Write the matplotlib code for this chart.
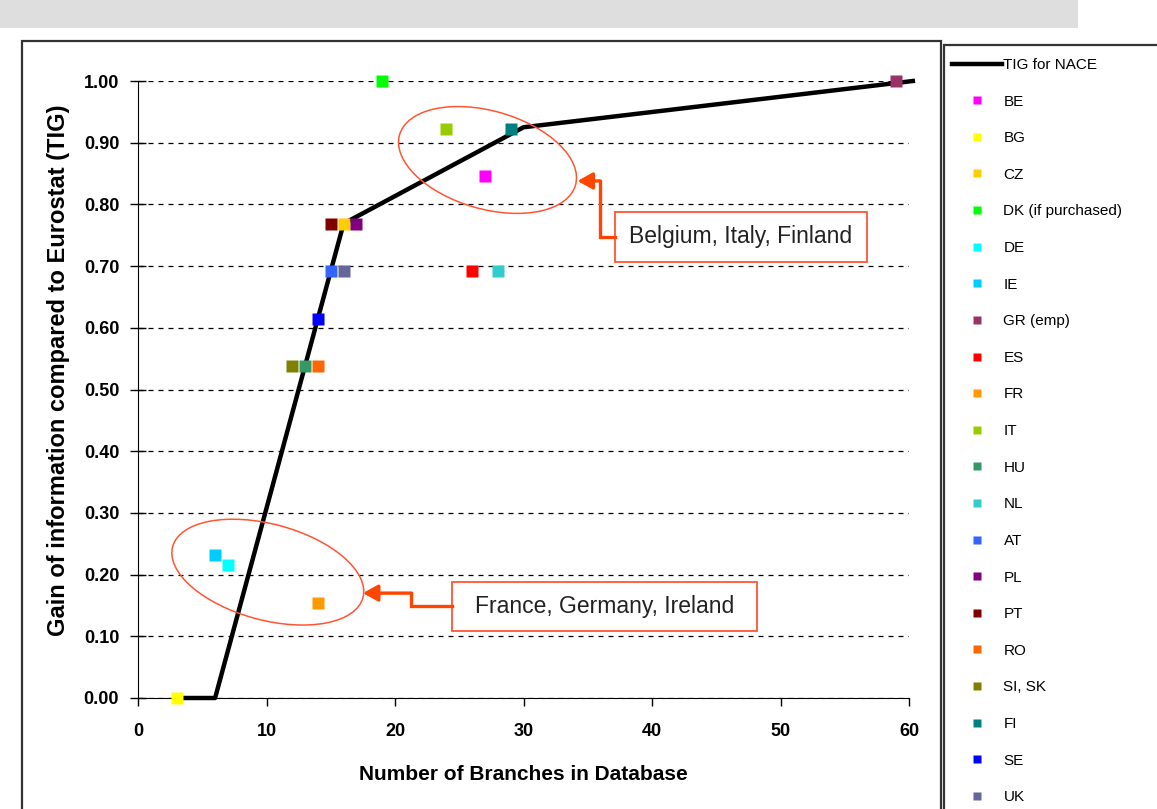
import matplotlib.pyplot as plt
import matplotlib.transforms as mtransforms
from matplotlib.lines import Line2D
from matplotlib.patches import Rectangle, Ellipse

plt.rcParams['font.family'] = ['Liberation Sans', 'DejaVu Sans']

# data
countries = ['BE', 'BG', 'CZ', 'DK (if purchased)', 'DE', 'IE', 'GR (emp)', 'ES', 'FR', 'IT',
             'HU', 'NL', 'AT', 'PL', 'PT', 'RO', 'SI, SK', 'FI', 'SE', 'UK']
branches = [27, 3, 16, 19, 7, 6, 59, 26, 14, 24, 13, 28, 15, 17, 15, 14, 12, 29, 14, 16]
tig = [0.846, 0.0, 0.769, 1.0, 0.215, 0.231, 1.0, 0.692, 0.154, 0.923,
       0.538, 0.692, 0.692, 0.769, 0.769, 0.538, 0.538, 0.923, 0.615, 0.692]
colors = ['#FF00FF', '#FFFF00', '#FFCC00', '#00FF00', '#00FFFF', '#00CCFF', '#993366', '#FF0000',
          '#FF9900', '#99CC00', '#339966', '#33CCCC', '#3366FF', '#800080', '#800000', '#FF6600',
          '#808000', '#008080', '#0000FF', '#666699']

nace_branches = [3, 6, 16, 17, 30, 60.3]
nace_tig = [0.0, 0.0, 0.769, 0.78, 0.925, 1.0]

x_ticks = [0, 10, 20, 30, 40, 50, 60]
y_ticks = [0.0, 0.1, 0.2, 0.3, 0.4, 0.5, 0.6, 0.7, 0.8, 0.9, 1.0]

W, H = 1157, 809


def fx(px):
    return px / W


def fy(py):
    return 1 - py / H


fig = plt.figure(figsize=(W / 100, H / 100), dpi=100)

# grey band on top, chart frame and legend frame
fig.add_artist(Rectangle((0, fy(28)), fx(1078), 28 / H, transform=fig.transFigure,
                         color='#dedede', lw=0))
fig.add_artist(Rectangle((fx(22), fy(815)), fx(941 - 22), (815 - 41) / H,
                         transform=fig.transFigure, fill=False, ec='#333333', lw=1.6))
fig.add_artist(Rectangle((fx(944), fy(815)), fx(1170 - 944), (815 - 45) / H,
                         transform=fig.transFigure, fill=False, ec='#333333', lw=1.6))

ax = fig.add_axes([fx(138), fy(698), fx(909 - 138), (698 - 81) / H])

ax.plot(nace_branches, nace_tig, color='black', lw=3.2, zorder=3, clip_on=False)
for b, t, c in zip(branches, tig, colors):
    ax.plot(b, t, 's', color=c, ms=8, mec='none', zorder=4, clip_on=False)

ax.set_xlim(0, 60)
ax.set_ylim(0, 1)
ax.set_xticks(x_ticks)
ax.set_yticks(y_ticks)
ax.set_yticklabels(['%.2f' % v for v in y_ticks])
ax.yaxis.grid(True, ls=(0, (4, 4)), color='black', lw=0.9)
ax.set_axisbelow(True)
for s in ['top', 'right']:
    ax.spines[s].set_visible(False)
ax.tick_params(axis='y', direction='inout', length=11, width=1, pad=8, labelsize=13)
ax.tick_params(axis='x', direction='out', length=6, width=1, pad=12, labelsize=13)
for lab in ax.get_xticklabels() + ax.get_yticklabels():
    lab.set_fontweight('bold')

ax.set_xlabel('Number of Branches in Database', fontsize=15, fontweight='bold')
ax.xaxis.set_label_coords(0.5, -0.108)
ax.set_ylabel('Gain of information compared to Eurostat (TIG)', fontsize=17, fontweight='bold')
ax.yaxis.set_label_coords(-0.088, 0.532)

# annotations: ellipses, arrows and boxes
red = '#FF5533'
arrow_red = '#FF4500'


def ring(cx, cy, w, h, ang):
    tr = fig.dpi_scale_trans + mtransforms.ScaledTranslation(cx, cy, ax.transData)
    ax.add_artist(Ellipse((0, 0), w, h, angle=ang, transform=tr, fill=False,
                          ec=red, lw=1.1, zorder=5, clip_on=False))


ring(10.1, 0.204, 1.97, 0.96, -15)
ring(27.2, 0.872, 1.83, 0.98, -16)


def callout(text, x0, x1, y0, y1, path, tip):
    ax.add_patch(Rectangle((x0, y0), x1 - x0, y1 - y0, fc='white', ec=red, lw=1.3,
                           zorder=6, clip_on=False))
    ax.text((x0 + x1) / 2, (y0 + y1) / 2, text, ha='center', va='center', fontsize=16.5,
            color='#222222', zorder=7)
    ax.plot([p[0] for p in path], [p[1] for p in path], color=arrow_red, lw=2.4,
            solid_joinstyle='miter', zorder=6, clip_on=False)
    ax.annotate('', xy=tip, xytext=path[-1],
                arrowprops=dict(arrowstyle='-|>,head_length=0.45,head_width=0.25',
                                color=arrow_red, lw=2.4, shrinkA=0, shrinkB=0,
                                mutation_scale=20), zorder=6)


callout('Belgium, Italy, Finland', 37.1, 56.7, 0.707, 0.788,
        [(37.1, 0.747), (35.95, 0.747), (35.95, 0.838)], (34.2, 0.838))
callout('France, Germany, Ireland', 24.4, 48.2, 0.109, 0.188,
        [(24.4, 0.149), (21.25, 0.149), (21.25, 0.170)], (17.5, 0.170))

# legend
handles = [Line2D([], [], color='black', lw=3.2)]
for c in colors:
    handles.append(Line2D([], [], ls='none', marker='s', ms=5.5, color=c, mec='none'))
labels = ['TIG for NACE'] + countries
fig.legend(handles, labels, loc='upper left', bbox_to_anchor=(fx(952), fy(58)),
           frameon=False, fontsize=11, handlelength=3.27, handletextpad=0.1,
           labelspacing=1.48, borderpad=0, borderaxespad=0)

fig.savefig('out.png', dpi=100)
